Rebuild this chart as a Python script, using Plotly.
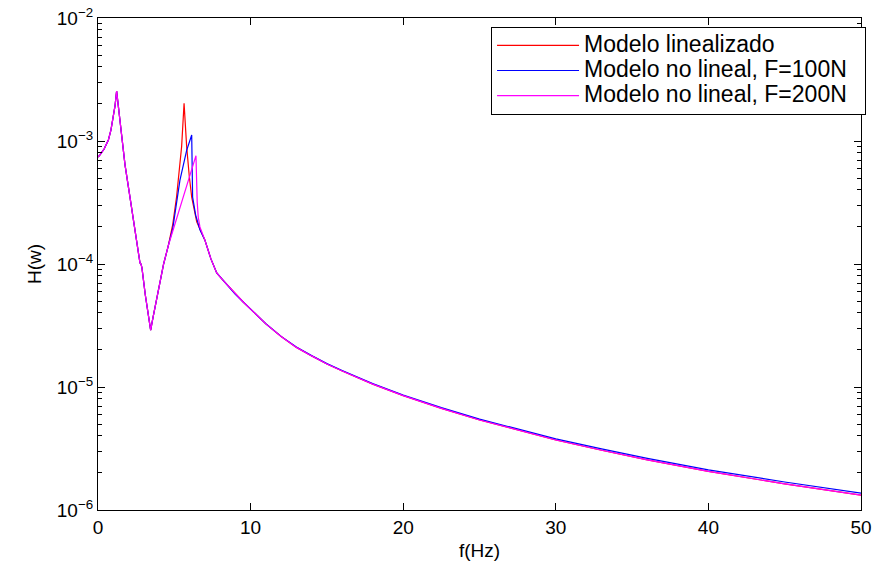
import plotly.graph_objects as go

# Common part (all three curves), up to the second-resonance region
f_low = [0, 0.13, 0.4, 0.68, 0.85, 1.0, 1.12, 1.22, 1.4, 1.55, 1.77, 2.05, 2.31, 2.55, 2.75, 2.82, 2.88,
         3.1, 3.3, 3.45, 3.6, 3.95, 4.3, 4.6]
H_low = [7.4e-4, 7.7e-4, 8.6e-4, 1.02e-3, 1.23e-3, 1.58e-3, 1.95e-3, 2.55e-3, 1.6e-3, 1.08e-3, 6.4e-4,
         3.8e-4, 2.3e-4, 1.45e-4, 1.02e-4, 1.0e-4, 9.3e-5, 5.6e-5, 3.64e-5, 2.9e-5, 3.64e-5, 6.2e-5,
         1.0e-4, 1.4e-4]

# Second resonance region (per series)
f_red = [4.9, 5.15, 5.37, 5.48, 5.64, 5.81, 5.98, 6.14, 6.47, 6.68]
H_red = [2.1e-4, 3.52e-4, 6.2e-4, 9.0e-4, 2.03e-3, 9.0e-4, 5.2e-4, 3.5e-4, 2.2e-4, 1.9e-4]

f_blue = [4.9, 5.37, 5.81, 6.14, 6.2, 6.4, 6.68]
H_blue = [1.95e-4, 4.8e-4, 8.4e-4, 1.12e-3, 3.5e-4, 2.5e-4, 1.9e-4]

f_mag = [4.9, 5.37, 6.03, 6.42, 6.5, 6.57, 6.68]
H_mag = [1.85e-4, 2.92e-4, 5.5e-4, 7.6e-4, 3.2e-4, 2.4e-4, 2.0e-4]

# Common tail
f_tail = [7.0, 7.4, 7.78, 8.2, 8.5, 9.0, 9.5, 10, 11, 12, 13, 14, 15, 16, 18, 20, 22.5, 25, 27.5,
          30, 33, 36, 40, 45, 50]
H_tail = [1.57e-4, 1.1e-4, 8.45e-5, 7.36e-5, 6.7e-5, 5.68e-5, 4.93e-5, 4.3e-5, 3.26e-5, 2.57e-5,
          2.1e-5, 1.79e-5, 1.54e-5, 1.35e-5, 1.056e-5, 8.5e-6, 6.7e-6, 5.39e-6, 4.44e-6,
          3.71e-6, 3.06e-6, 2.56e-6, 2.06e-6, 1.63e-6, 1.32e-6]
H_tail_blue = [1.57e-4, 1.1e-4, 8.45e-5, 7.36e-5, 6.7e-5, 5.68e-5, 4.93e-5, 4.3e-5, 3.27e-5, 2.58e-5,
               2.11e-5, 1.8e-5, 1.55e-5, 1.36e-5, 1.065e-5, 8.6e-6, 6.8e-6, 5.48e-6, 4.53e-6,
               3.79e-6, 3.14e-6, 2.63e-6, 2.12e-6, 1.69e-6, 1.37e-6]

names = ["Modelo linealizado", "Modelo no lineal, F=100N", "Modelo no lineal, F=200N"]
colors = ["#ff0000", "#0000ff", "#ff00ff"]

series = [
    (f_low + f_red + f_tail, H_low + H_red + H_tail),
    (f_low + f_blue + f_tail, H_low + H_blue + H_tail_blue),
    (f_low + f_mag + f_tail, H_low + H_mag + H_tail),
]

y_major = [1e-6, 1e-5, 1e-4, 1e-3, 1e-2]
y_major_text = ["10<sup>\u22126</sup>", "10<sup>\u22125</sup>", "10<sup>\u22124</sup>",
                "10<sup>\u22123</sup>", "10<sup>\u22122</sup>"]
y_minor = [m * d for d in [1e-6, 1e-5, 1e-4, 1e-3] for m in range(2, 10)]

FONT = "Liberation Sans, Arial, sans-serif"

fig = go.Figure()
for (fx, hy), name, col in zip(series, names, colors):
    fig.add_trace(go.Scatter(x=fx, y=hy, mode="lines",
                             name="<span style='font-size:23px'>" + name + "\u00a0\u00a0</span>",
                             line=dict(color=col, width=1.2)))

fig.update_layout(
    width=876, height=562,
    margin=dict(l=98, r=15, t=18, b=52, autoexpand=False),
    paper_bgcolor="white", plot_bgcolor="white",
    font=dict(family=FONT, size=19, color="black"),
    showlegend=True,
    legend=dict(x=1.0066, y=0.982, xanchor="right", yanchor="top",
                bgcolor="white", bordercolor="black", borderwidth=1,
                font=dict(family=FONT, size=17), tracegroupgap=0,
                itemwidth=82),
    xaxis=dict(range=[0, 50], tick0=0, dtick=10, ticks="inside", ticklen=7,
               tickcolor="black", showline=True, linecolor="black", linewidth=1.3,
               mirror="ticks", showgrid=False, zeroline=False, automargin=False,
               title=dict(text="f(Hz)", font=dict(size=19), standoff=6),
               tickfont=dict(size=19)),
    yaxis=dict(type="log", range=[-6, -2], tickvals=y_major, ticktext=y_major_text,
               ticks="inside", ticklen=7, tickcolor="black", showline=True,
               linecolor="black", linewidth=1.3, mirror="ticks", showgrid=False,
               zeroline=False, automargin=False,
               minor=dict(tickvals=y_minor, ticks="inside", ticklen=4,
                          tickcolor="black", showgrid=False),
               title=dict(text="H(w)", font=dict(size=19), standoff=10),
               tickfont=dict(size=19)),
)

fig.write_html("out.html")
